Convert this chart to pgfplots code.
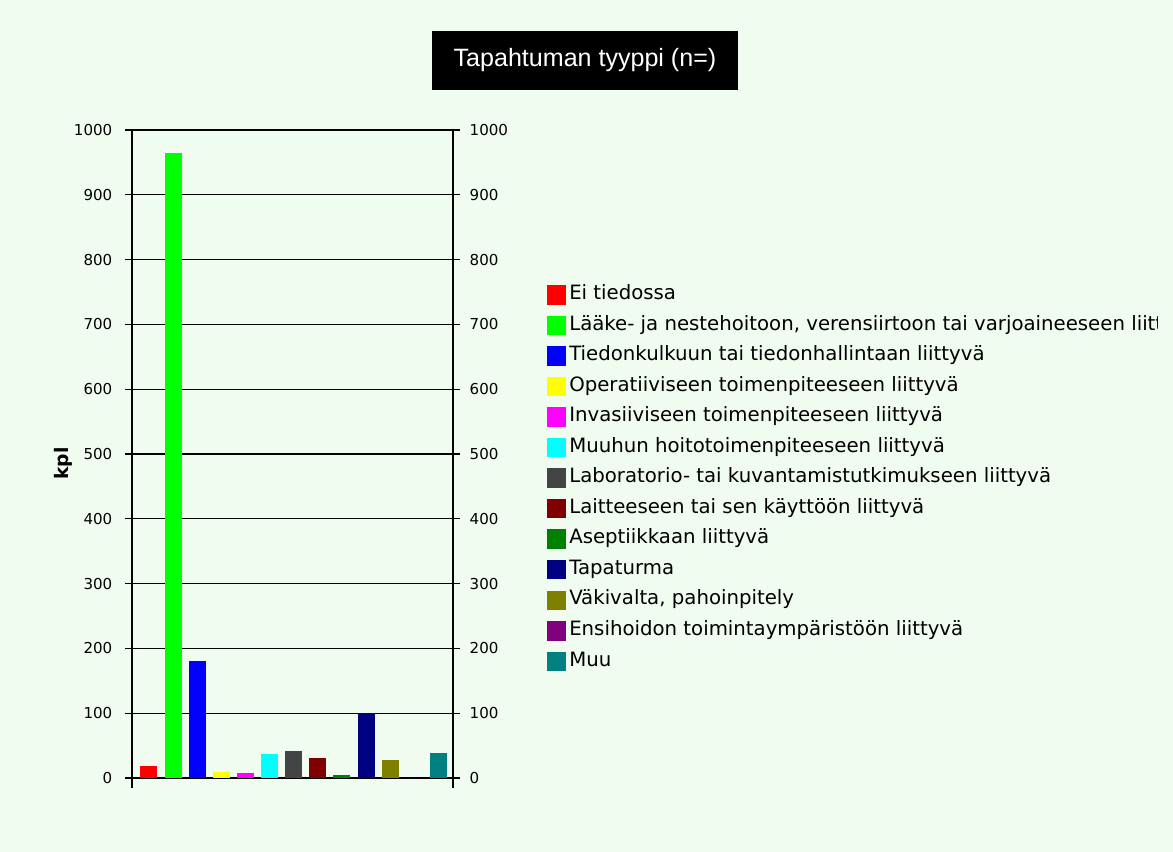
\documentclass[border=0pt]{standalone}
\usepackage{fontspec}
\setmainfont{DejaVu Sans}
\newfontfamily\titlefont{Liberation Sans}
\usepackage{pgfplots}
\pgfplotsset{compat=1.18}
\definecolor{bg}{RGB}{240,252,240}
\definecolor{cRed}{RGB}{255,0,0}
\definecolor{cGreen}{RGB}{0,255,0}
\definecolor{cBlue}{RGB}{0,0,255}
\definecolor{cYellow}{RGB}{255,255,0}
\definecolor{cMagenta}{RGB}{255,0,255}
\definecolor{cCyan}{RGB}{0,255,255}
\definecolor{cGray}{RGB}{68,68,68}
\definecolor{cDarkRed}{RGB}{128,0,0}
\definecolor{cDarkGreen}{RGB}{0,128,0}
\definecolor{cNavy}{RGB}{0,0,128}
\definecolor{cOlive}{RGB}{128,128,0}
\definecolor{cPurple}{RGB}{128,0,128}
\definecolor{cTeal}{RGB}{0,128,128}
\pgfplotsset{
  mybar/.style={ybar, bar width=12.75pt, bar shift=0pt, fill=#1, draw=none,
    legend image code/.code={\fill[#1] (0pt,-7.3pt) rectangle (14.25pt,7.3pt); \path (16.5pt,0pt);}},
}
\begin{document}
\begin{tikzpicture}
\useasboundingbox (0,0) rectangle (879.75pt,639pt);
\fill[bg] (0,0) rectangle (879.75pt,639pt);
\clip (0,0) rectangle (867.75pt,639pt);
\begin{axis}[
  at={(99pt,48pt)}, anchor=south west, scale only axis,
  width=240.75pt, height=493.5pt,
  xmin=-0.7, xmax=12.6, ymin=-15.4, ymax=1000,
  xtick=\empty, ytick={0,100,...,1000},
  ytick pos=both, yticklabel pos=left,
  tick align=outside, major tick length=5.25pt,
  ytick style={black, line width=0.8pt},
  ymajorgrids, major grid style={black, line width=0.8pt},
  separate axis lines,
  x axis line style={draw=none},
  y axis line style={draw=black, line width=1.1pt},
  ticklabel style={font=\fontsize{11.3}{13}\selectfont},
  yticklabel style={xshift=-6pt},
  /pgf/number format/assume math mode=true,
  /pgf/number format/1000 sep={},
  title={Tapahtuman tyyppi (n=)},
  title style={at={(axis description cs:1.4112,1.1056)}, anchor=center, yshift=-6pt,
    fill=black, text=white, minimum width=229.5pt, minimum height=44.25pt, inner sep=0pt,
    font=\titlefont\fontsize{18.8}{22}\selectfont},
  ylabel={kpl},
  ylabel style={at={(axis description cs:-0.215,0.493)}, anchor=center,
    font=\bfseries\fontsize{14}{16}\selectfont},
  legend style={at={(axis description cs:1.2928,0.7645)}, anchor=north west,
    draw=none, fill=none, inner sep=0pt, row sep=8.3pt,
    cells={anchor=west},
    nodes={inner sep=0pt, text height=10.5pt, text depth=3.5pt,
      font=\fontsize{14.8}{17}\selectfont}},
]
\addplot[mybar=cRed] coordinates {(0,19)};
\addlegendentry{Ei tiedossa}
\addplot[mybar=cGreen] coordinates {(1,965)};
\addlegendentry{Lääke- ja nestehoitoon, verensiirtoon tai varjoaineeseen liittyvä}
\addplot[mybar=cBlue] coordinates {(2,181)};
\addlegendentry{Tiedonkulkuun tai tiedonhallintaan liittyvä}
\addplot[mybar=cYellow] coordinates {(3,9)};
\addlegendentry{Operatiiviseen toimenpiteeseen liittyvä}
\addplot[mybar=cMagenta] coordinates {(4,8)};
\addlegendentry{Invasiiviseen toimenpiteeseen liittyvä}
\addplot[mybar=cCyan] coordinates {(5,37)};
\addlegendentry{Muuhun hoitotoimenpiteeseen liittyvä}
\addplot[mybar=cGray] coordinates {(6,41)};
\addlegendentry{Laboratorio- tai kuvantamistutkimukseen liittyvä}
\addplot[mybar=cDarkRed] coordinates {(7,31)};
\addlegendentry{Laitteeseen tai sen käyttöön liittyvä}
\addplot[mybar=cDarkGreen] coordinates {(8,5)};
\addlegendentry{Aseptiikkaan liittyvä}
\addplot[mybar=cNavy] coordinates {(9,100)};
\addlegendentry{Tapaturma}
\addplot[mybar=cOlive] coordinates {(10,28)};
\addlegendentry{Väkivalta, pahoinpitely}
\addplot[mybar=cPurple] coordinates {(11,0)};
\addlegendentry{Ensihoidon toimintaympäristöön liittyvä}
\addplot[mybar=cTeal] coordinates {(12,39)};
\addlegendentry{Muu}
\end{axis}
\begin{axis}[
  at={(99pt,48pt)}, anchor=south west, scale only axis,
  width=240.75pt, height=493.5pt,
  xmin=-0.7, xmax=12.6, ymin=-15.4, ymax=1000,
  hide x axis, axis y line*=right, y axis line style={draw=none},
  ytick={0,100,...,1000}, ytick style={draw=none},
  tick align=outside, major tick length=5.25pt,
  ticklabel style={font=\fontsize{11.3}{13}\selectfont},
  yticklabel style={xshift=3.75pt},
  /pgf/number format/assume math mode=true,
  /pgf/number format/1000 sep={},
]
\addplot[draw=none] coordinates {(0,0)};
\end{axis}
\end{tikzpicture}
\end{document}
